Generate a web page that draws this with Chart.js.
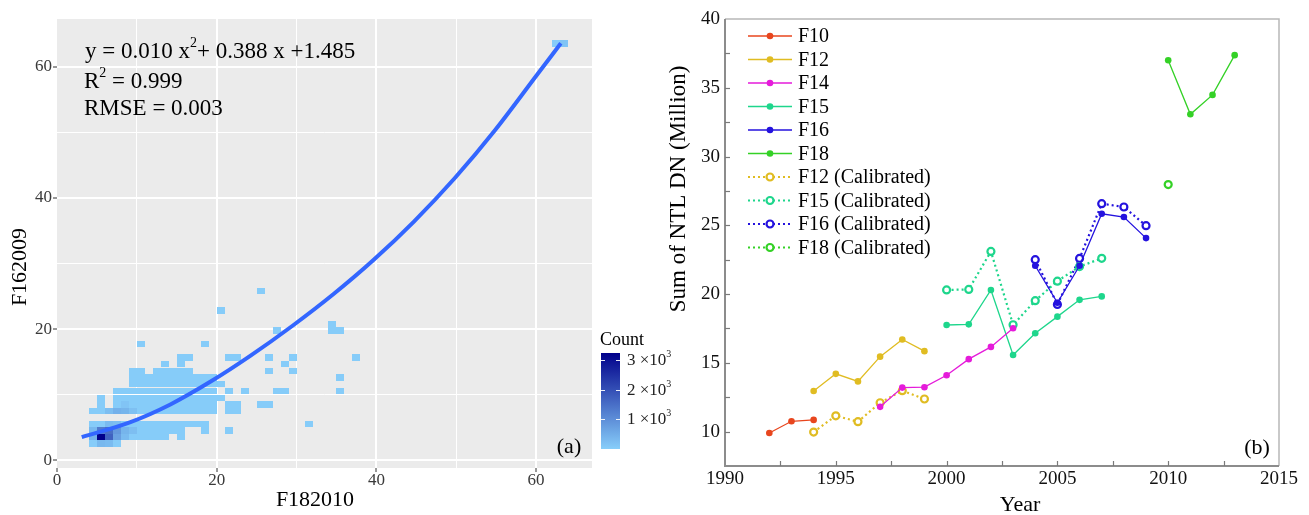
<!DOCTYPE html>
<html>
<head>
<meta charset="utf-8">
<script src="https://cdn.jsdelivr.net/npm/chart.js@4.4.1/dist/chart.umd.min.js"></script>
<style>
  body { margin: 0; background: #fff; }
  #wrap { position: relative; width: 1309px; height: 515px; }
  #panelA { position: absolute; left: 0; top: 0; }
  #panelB { position: absolute; left: 660px; top: 0; }
</style>
</head>
<body>
<div id="wrap">
  <canvas id="panelA" width="680" height="515"></canvas>
  <canvas id="panelB" width="649" height="515"></canvas>
</div>
<script>
const SERIF = "'Liberation Serif', 'Times New Roman', serif";
Chart.defaults.font.family = SERIF;
Chart.defaults.color = '#222';

/* ---------- panel (a): F182010 vs F162009, binned counts ---------- */
const xGridA = [0, 10, 20, 30, 40, 50, 60];
const yGridA = [0, 10, 20, 30, 40, 50, 60];

// fitted curve
const curveX = [3.1, 9.2, 14.2, 19.4, 24.2, 29.5, 34.6, 39.7, 44.7, 49.8, 54.9, 60.0, 63.1];
const curveY = [3.5, 5.8, 8.5, 12.1, 15.9, 20.5, 25.3, 30.6, 36.4, 43.0, 50.4, 58.6, 63.6];

// dense cluster: bin centre y, first and last bin centre x of each row
const rowY    = [2.5, 3.5, 4.5, 5.5, 7.5, 8.5, 9.5, 10.55, 11.6, 12.6, 13.6, 14.65, 15.7];
const rowFrom = [4.5, 4.5, 4.5, 4.5, 4.5, 7.5, 7.5, 7.5, 9.5, 9.5, 9.5, 13.5, 15.5];
const rowTo   = [7.5, 13.5, 15.5, 18.5, 19.5, 19.5, 20.5, 19.5, 20.5, 19.5, 10.5, 13.5, 16.5];

// single bins outside the rows above
const extraX = [15.5, 18.5, 21.5, 31.5, 21.5, 22.5, 5.5, 21.5, 22.5, 25.5, 26.5, 5.5,
                21.5, 23.5, 27.5, 28.5, 35.5, 35.5, 12.5, 13.5, 14.5, 15.5, 16.5, 26.5, 29.5,
                15.5, 28.5, 21.5, 22.5, 26.5, 29.5, 37.5, 10.5, 18.5, 27.5, 34.5, 35.5, 34.5,
                20.5, 25.5, 62.5, 63.5];
const extraY = [3.5, 4.5, 4.5, 5.5, 7.5, 7.5, 8.5, 8.5, 8.5, 8.5, 8.5, 9.5,
                10.55, 10.55, 10.55, 10.55, 10.55, 12.6, 13.6, 13.6, 13.6, 13.6, 13.6, 13.6, 13.6,
                14.65, 14.65, 15.7, 15.7, 15.7, 15.7, 15.7, 17.7, 17.7, 19.8, 19.8, 19.8, 20.8,
                22.8, 25.8, 63.6, 63.6];

// bins with higher counts
const hotX     = [5.5, 6.5, 6.5, 5.5, 7.5, 7.5, 4.5, 4.5, 8.5, 8.5, 9.5, 5.5, 6.5, 6.5, 7.5, 7.5, 8.5, 6.5, 9.5, 8.5, 63.5];
const hotY     = [3.5, 3.5, 4.5, 4.5, 4.5, 3.5, 3.5, 4.5, 4.5, 3.5, 4.5, 2.5, 2.5, 5.5, 5.5, 7.5, 7.5, 7.5, 7.5, 8.5, 63.6];
const hotCount = [3230, 1700, 1500, 1300, 850, 700, 450, 350, 400, 300, 250, 350, 300, 300, 250, 450, 400, 250, 220, 150, 160];
const baseCount = 30;

const countTicks = [1000, 2000, 3000];
const countMin = 1, countMax = 3230;
const lowRGB = [135, 206, 250], highRGB = [0, 0, 139];

const cells = [];
rowY.forEach((yc, r) => {
  for (let xc = rowFrom[r]; xc <= rowTo[r]; xc++) cells.push({x: xc, y: yc, n: baseCount});
});
extraX.forEach((xc, i) => cells.push({x: xc, y: extraY[i], n: baseCount}));
hotX.forEach((xc, i) => {
  const c = cells.find(c => c.x === xc && c.y === hotY[i]);
  if (c) c.n = hotCount[i];
});

function countColor(n) {
  const t = Math.max(0, Math.min(1, (n - countMin) / (countMax - countMin)));
  const c = lowRGB.map((v, i) => Math.round(v + (highRGB[i] - v) * t));
  return 'rgb(' + c[0] + ',' + c[1] + ',' + c[2] + ')';
}

// text with superscripts
function richText(ctx, parts, x, y, size) {
  let cx = x;
  parts.forEach(p => {
    const sup = p[1];
    ctx.font = (sup ? Math.round(size * 0.6) : size) + 'px ' + SERIF;
    ctx.fillText(p[0], cx, sup ? y - size * 0.36 : y);
    cx += ctx.measureText(p[0]).width;
  });
}

const panelAPlugin = {
  id: 'panelA',
  beforeDraw(chart) {
    const {ctx, chartArea: a} = chart;
    ctx.save();
    ctx.fillStyle = '#EBEBEB';
    ctx.fillRect(a.left, a.top, a.right - a.left, a.bottom - a.top);
    ctx.restore();
  },
  beforeDatasetsDraw(chart) {
    const {ctx, scales: {x, y}} = chart;
    ctx.save();
    cells.forEach(c => {
      const x0 = Math.round(x.getPixelForValue(c.x - 0.5));
      const x1 = Math.round(x.getPixelForValue(c.x + 0.5));
      const y0 = Math.round(y.getPixelForValue(c.y + 0.5));
      const y1 = Math.round(y.getPixelForValue(c.y - 0.5));
      ctx.fillStyle = countColor(c.n);
      ctx.fillRect(x0, y0, x1 - x0, y1 - y0);
    });
    ctx.restore();
  },
  afterDraw(chart) {
    const {ctx} = chart;
    ctx.save();
    ctx.fillStyle = '#000';
    ctx.textBaseline = 'middle';
    ctx.textAlign = 'left';
    richText(ctx, [['y = 0.010 x'], ['2', 1], ['+ 0.388 x +1.485']], 85, 52, 23);
    richText(ctx, [['R'], ['2', 1], [' = 0.999']], 84, 82, 23);
    richText(ctx, [['RMSE = 0.003']], 84, 109, 23);

    ctx.textAlign = 'center';
    ctx.font = '22px ' + SERIF;
    ctx.fillText('(a)', 569, 447);
    ctx.fillText('F182010', 315, 500);
    ctx.save();
    ctx.translate(20, 267);
    ctx.rotate(-Math.PI / 2);
    ctx.fillText('F162009', 0, 0);
    ctx.restore();

    // colour bar
    const cb = {left: 601, width: 19, top: 353, bottom: 449};
    const cy = n => cb.bottom - (n - countMin) / (countMax - countMin) * (cb.bottom - cb.top);
    const g = ctx.createLinearGradient(0, cb.bottom, 0, cb.top);
    for (let k = 0; k <= 10; k++) g.addColorStop(k / 10, countColor(countMin + (countMax - countMin) * k / 10));
    ctx.fillStyle = g;
    ctx.fillRect(cb.left, cb.top, cb.width, cb.bottom - cb.top);
    ctx.strokeStyle = 'rgba(255,255,255,0.9)';
    ctx.lineWidth = 1;
    ctx.textAlign = 'left';
    countTicks.forEach(n => {
      const yy = Math.round(cy(n)) + 0.5;
      ctx.beginPath();
      ctx.moveTo(cb.left, yy); ctx.lineTo(cb.left + 4, yy);
      ctx.moveTo(cb.left + cb.width - 4, yy); ctx.lineTo(cb.left + cb.width, yy);
      ctx.stroke();
      ctx.fillStyle = '#222';
      richText(ctx, [[(n / 1000) + ' \u00d710'], ['3', 1]], 627, yy, 17);
    });
    ctx.fillStyle = '#000';
    ctx.font = '18px ' + SERIF;
    ctx.fillText('Count', 600, 340);
    ctx.restore();
  }
};

new Chart(document.getElementById('panelA'), {
  type: 'scatter',
  data: {
    datasets: [{
      label: 'fit',
      data: curveX.map((v, i) => ({x: v, y: curveY[i]})),
      showLine: true,
      borderColor: '#3366FF',
      borderWidth: 4,
      pointRadius: 0,
      cubicInterpolationMode: 'monotone'
    }]
  },
  options: {
    responsive: false,
    animation: false,
    devicePixelRatio: 1,
    layout: {padding: {top: 19, right: 88, left: 0, bottom: 0}},
    plugins: {legend: {display: false}, tooltip: {enabled: false}},
    scales: {
      x: {
        type: 'linear', min: 0, max: 67,
        afterBuildTicks: s => { s.ticks = xGridA.map(v => ({value: v})); },
        afterFit: s => { s.height = 47; },
        ticks: {
          autoSkip: false, maxRotation: 0, padding: 0, color: '#3a3a3a',
          font: {size: 17, lineHeight: 1},
          callback: v => (v % 20 === 0 ? v : '')
        },
        grid: {
          color: c => (c.tick && c.tick.value === 0 ? 'rgba(0,0,0,0)' : '#fff'),
          lineWidth: c => (c.tick && c.tick.value % 20 === 0 ? 2 : 1),
          tickColor: c => (c.tick && c.tick.value % 20 === 0 ? '#333' : 'rgba(0,0,0,0)'),
          tickLength: 4, tickWidth: 1
        },
        border: {display: false}
      },
      y: {
        type: 'linear', min: -1.2, max: 67.3,
        afterBuildTicks: s => { s.ticks = yGridA.map(v => ({value: v})); },
        afterFit: s => { s.width = 57; },
        ticks: {
          autoSkip: false, padding: 1, color: '#3a3a3a',
          font: {size: 17, lineHeight: 1},
          callback: v => (v % 20 === 0 ? v : '')
        },
        grid: {
          color: '#fff',
          lineWidth: c => (c.tick && c.tick.value % 20 === 0 ? 2 : 1),
          tickColor: c => (c.tick && c.tick.value % 20 === 0 ? '#333' : 'rgba(0,0,0,0)'),
          tickLength: 4, tickWidth: 1
        },
        border: {display: false}
      }
    }
  },
  plugins: [panelAPlugin]
});

/* ---------- panel (b): sum of NTL DN per satellite ---------- */
const yearsF10 = [1992, 1993, 1994];
const valsF10  = [9.9, 10.75, 10.85];
const yearsF12 = [1994, 1995, 1996, 1997, 1998, 1999];
const valsF12  = [12.95, 14.2, 13.65, 15.45, 16.7, 15.85];
const valsF12c = [9.97, 11.15, 10.72, 12.1, 12.98, 12.37];
const yearsF14 = [1997, 1998, 1999, 2000, 2001, 2002, 2003];
const valsF14  = [11.8, 13.2, 13.23, 14.1, 15.27, 16.16, 17.52];
const yearsF15 = [2000, 2001, 2002, 2003, 2004, 2005, 2006, 2007];
const valsF15  = [17.75, 17.8, 20.3, 15.57, 17.15, 18.36, 19.58, 19.83];
const valsF15c = [20.3, 20.34, 23.1, 17.77, 19.52, 20.94, 22.0, 22.6];
const yearsF16 = [2004, 2005, 2006, 2007, 2008, 2009];
const valsF16  = [22.06, 19.37, 22.06, 25.84, 25.6, 24.07];
const valsF16c = [22.5, 19.25, 22.59, 26.57, 26.33, 24.97];
const yearsF18 = [2010, 2011, 2012, 2013];
const valsF18  = [37.0, 33.07, 34.48, 37.37];
const yearsF18c = [2010];
const valsF18c  = [27.96];

const xTicksB = [1990, 1992.5, 1995, 1997.5, 2000, 2002.5, 2005, 2007.5, 2010, 2012.5, 2015];
const yTicksB = [10, 12.5, 15, 17.5, 20, 22.5, 25, 27.5, 30, 32.5, 35, 37.5, 40];

const colF10 = '#E8461E', colF12 = '#E0BC22', colF14 = '#E51BDA',
      colF15 = '#1ED68C', colF16 = '#2412DE', colF18 = '#34D126';

function solid(label, years, vals, color) {
  return {
    label, data: years.map((yr, i) => ({x: yr, y: vals[i]})),
    showLine: true, borderColor: color, backgroundColor: color, borderWidth: 1.3,
    pointRadius: 3.3, pointBackgroundColor: color, pointBorderColor: color, pointBorderWidth: 0
  };
}
function calibrated(label, years, vals, color) {
  return {
    label, data: years.map((yr, i) => ({x: yr, y: vals[i]})),
    showLine: true, borderColor: color, backgroundColor: color, borderWidth: 2.2, borderDash: [2, 3],
    pointRadius: 3.5, pointBackgroundColor: '#fff', pointBorderColor: color, pointBorderWidth: 2.2
  };
}

const panelBPlugin = {
  id: 'panelB',
  afterDraw(chart) {
    const {ctx, chartArea: a, scales: {x, y}} = chart;
    ctx.save();
    // frame
    ctx.lineWidth = 1.5;
    ctx.strokeStyle = '#b8b8b8';
    ctx.beginPath(); ctx.moveTo(a.left, a.top); ctx.lineTo(a.right, a.top); ctx.lineTo(a.right, a.bottom); ctx.stroke();
    ctx.lineWidth = 2;
    ctx.strokeStyle = '#8c8c8c';
    ctx.beginPath(); ctx.moveTo(a.left, a.top); ctx.lineTo(a.left, a.bottom); ctx.lineTo(a.right, a.bottom); ctx.stroke();
    // inward ticks
    ctx.lineWidth = 1.2;
    ctx.strokeStyle = '#7a7a7a';
    x.ticks.forEach(t => {
      if (t.value <= x.min || t.value >= x.max) return;
      const px = Math.round(x.getPixelForValue(t.value)) + 0.5;
      ctx.beginPath(); ctx.moveTo(px, a.bottom); ctx.lineTo(px, a.bottom - 5); ctx.stroke();
    });
    y.ticks.forEach(t => {
      if (t.value <= y.min || t.value >= y.max) return;
      const py = Math.round(y.getPixelForValue(t.value)) + 0.5;
      ctx.beginPath(); ctx.moveTo(a.left, py); ctx.lineTo(a.left + 5, py); ctx.stroke();
    });

    // legend
    const lg = {top: 36, step: 23.5, x0: 88, x1: 132, mark: 110, text: 138};
    ctx.textBaseline = 'middle';
    ctx.textAlign = 'left';
    chart.data.datasets.forEach((ds, i) => {
      const yy = lg.top + i * lg.step;
      ctx.setLineDash(ds.borderDash || []);
      ctx.lineWidth = ds.borderWidth;
      ctx.strokeStyle = ds.borderColor;
      ctx.beginPath(); ctx.moveTo(lg.x0, yy); ctx.lineTo(lg.x1, yy); ctx.stroke();
      ctx.setLineDash([]);
      ctx.beginPath(); ctx.arc(lg.mark, yy, ds.pointRadius, 0, 2 * Math.PI);
      ctx.fillStyle = ds.pointBackgroundColor; ctx.fill();
      if (ds.pointBorderWidth > 0) { ctx.lineWidth = ds.pointBorderWidth; ctx.strokeStyle = ds.pointBorderColor; ctx.stroke(); }
      ctx.fillStyle = '#000';
      ctx.font = '20px ' + SERIF;
      ctx.fillText(ds.label, lg.text, yy + 1);
    });

    // titles
    ctx.textAlign = 'center';
    ctx.fillStyle = '#000';
    ctx.font = '22px ' + SERIF;
    ctx.fillText('(b)', 597, 448);
    ctx.fillText('Year', 360, 505);
    ctx.font = '23px ' + SERIF;
    ctx.translate(19, 189);
    ctx.rotate(-Math.PI / 2);
    ctx.fillText('Sum of NTL DN (Million)', 0, 0);
    ctx.restore();
  }
};

new Chart(document.getElementById('panelB'), {
  type: 'scatter',
  data: {
    datasets: [
      solid('F10', yearsF10, valsF10, colF10),
      solid('F12', yearsF12, valsF12, colF12),
      solid('F14', yearsF14, valsF14, colF14),
      solid('F15', yearsF15, valsF15, colF15),
      solid('F16', yearsF16, valsF16, colF16),
      solid('F18', yearsF18, valsF18, colF18),
      calibrated('F12 (Calibrated)', yearsF12, valsF12c, colF12),
      calibrated('F15 (Calibrated)', yearsF15, valsF15c, colF15),
      calibrated('F16 (Calibrated)', yearsF16, valsF16c, colF16),
      calibrated('F18 (Calibrated)', yearsF18c, valsF18c, colF18)
    ]
  },
  options: {
    responsive: false,
    animation: false,
    devicePixelRatio: 1,
    layout: {padding: {top: 19, right: 30, left: 0, bottom: 0}},
    plugins: {legend: {display: false}, tooltip: {enabled: false}},
    scales: {
      x: {
        type: 'linear', min: 1990, max: 2015,
        afterBuildTicks: s => { s.ticks = xTicksB.map(v => ({value: v})); },
        afterFit: s => { s.height = 49; },
        ticks: {
          autoSkip: false, maxRotation: 0, padding: 4, color: '#111',
          font: {size: 19, lineHeight: 1},
          callback: v => (v % 5 === 0 ? v : '')
        },
        grid: {display: false, drawTicks: false},
        border: {display: false}
      },
      y: {
        type: 'linear', min: 7.5, max: 40,
        afterBuildTicks: s => { s.ticks = yTicksB.map(v => ({value: v})); },
        afterFit: s => { s.width = 65; },
        ticks: {
          autoSkip: false, padding: 5, color: '#111',
          font: {size: 19, lineHeight: 1},
          callback: v => (v % 5 === 0 ? v : '')
        },
        grid: {display: false, drawTicks: false},
        border: {display: false}
      }
    }
  },
  plugins: [panelBPlugin]
});
</script>
</body>
</html>
